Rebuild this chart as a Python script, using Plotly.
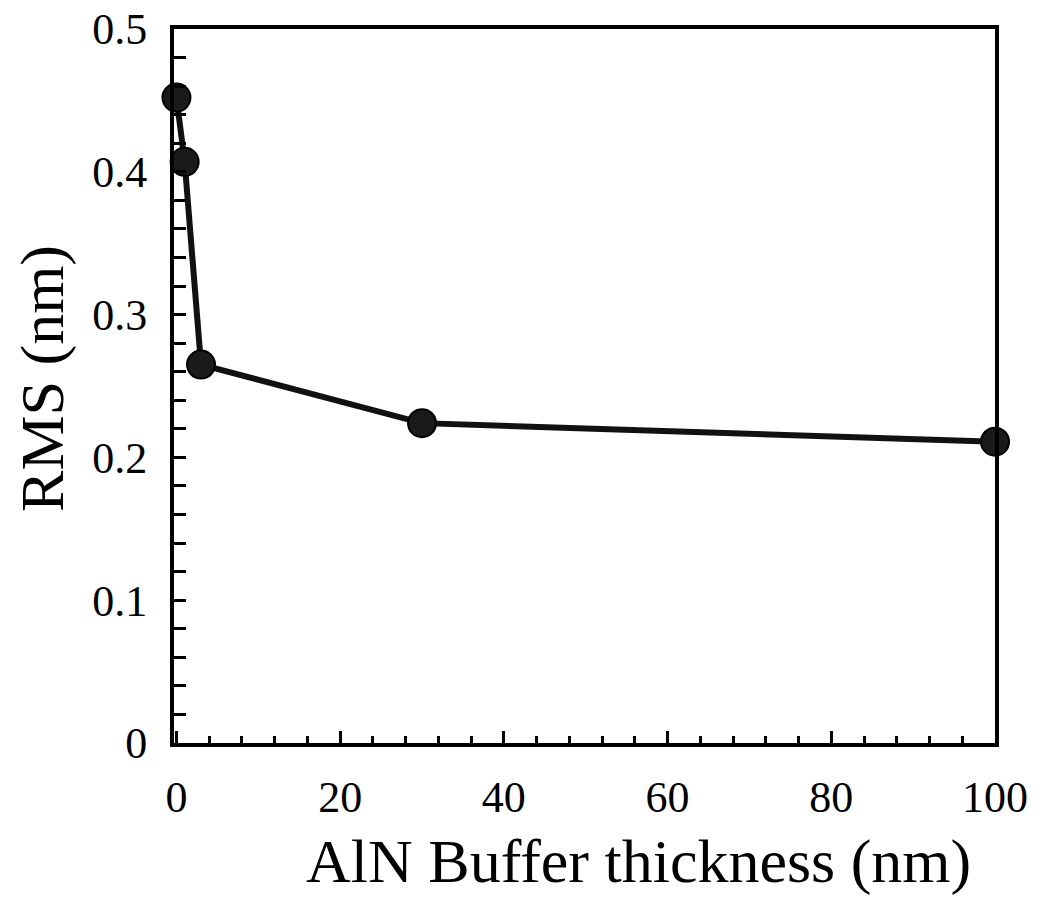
import plotly.graph_objects as go

thickness_nm = [0, 1, 3, 30, 100]
rms_nm = [0.452, 0.407, 0.265, 0.224, 0.211]

x_tickvals = [0, 20, 40, 60, 80, 100]
y_tickvals = [0, 0.1, 0.2, 0.3, 0.4, 0.5]
y_ticktext = ["0", "0.1", "0.2", "0.3", "0.4", "0.5"]

x_title = "AlN Buffer thickness (nm)"
y_title = "RMS (nm)"

FONT = "Liberation Serif, Times New Roman, serif"

fig = go.Figure()
fig.add_trace(go.Scatter(
    x=thickness_nm, y=rms_nm, mode="lines+markers",
    line=dict(color="#111111", width=6),
    marker=dict(size=28, color="#1a1a1a", line=dict(color="#000000", width=2)),
    cliponaxis=False, showlegend=False,
))

fig.update_layout(
    width=1040, height=897,
    margin=dict(l=174, r=45, t=29, b=154),
    paper_bgcolor="white", plot_bgcolor="white",
    font=dict(family=FONT, color="black"),
    annotations=[
        dict(text=x_title, xref="paper", yref="paper", x=0.566, y=-0.166,
             xanchor="center", yanchor="middle", showarrow=False,
             font=dict(size=62, family=FONT, color="black")),
        dict(text=y_title, xref="paper", yref="paper", x=-0.161, y=0.511,
             xanchor="center", yanchor="middle", showarrow=False, textangle=-90,
             font=dict(size=62, family=FONT, color="black")),
    ],
)
fig.update_xaxes(
    range=[-0.3, 100], tickvals=x_tickvals,
    ticks="inside", ticklen=12, tickwidth=3, tickcolor="black",
    minor=dict(dtick=4, tick0=0, ticks="inside", ticklen=7, tickwidth=3, tickcolor="black"),
    showline=True, linewidth=4, linecolor="black", mirror=True,
    showgrid=False, zeroline=False,
    tickfont=dict(size=44, family=FONT), ticklabelstandoff=12,
    automargin=False,
)
fig.update_yaxes(
    range=[0, 0.5], tickvals=y_tickvals, ticktext=y_ticktext,
    ticks="inside", ticklen=12, tickwidth=3, tickcolor="black",
    minor=dict(dtick=0.02, tick0=0, ticks="inside", ticklen=12, tickwidth=3, tickcolor="black"),
    showline=True, linewidth=4, linecolor="black", mirror=True,
    showgrid=False, zeroline=False,
    tickfont=dict(size=44, family=FONT), ticklabelstandoff=14,
    automargin=False,
)

fig.write_html("out.html")
